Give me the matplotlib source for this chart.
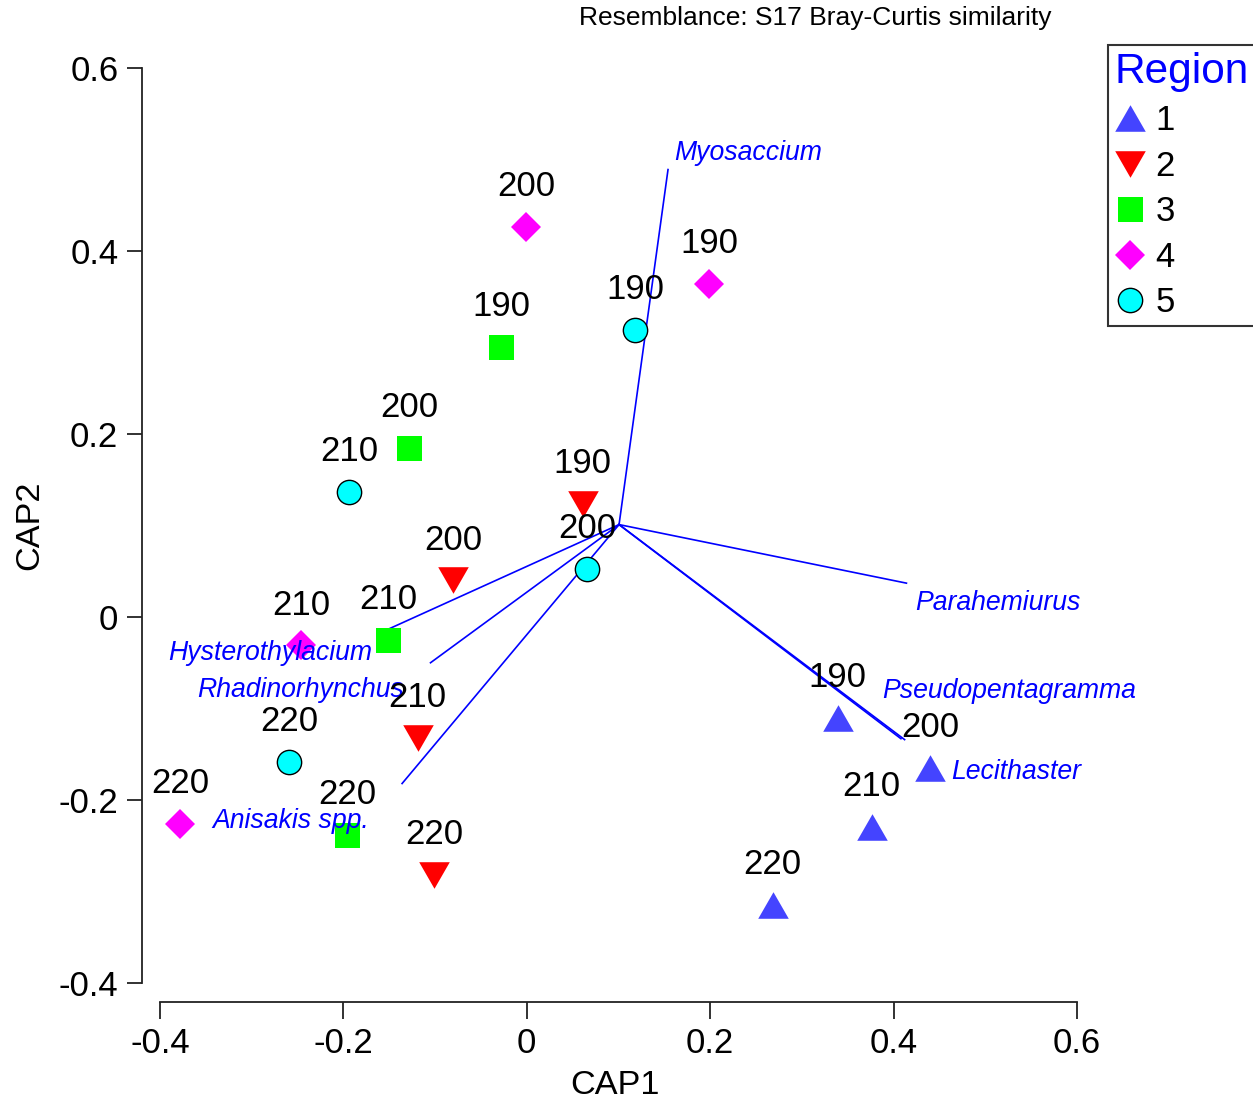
# CAP ordination plot (PRIMER style)
import numpy as np
import matplotlib
matplotlib.use('Agg')
import matplotlib.pyplot as plt
from matplotlib.lines import Line2D

plt.rcParams['font.family'] = ['Liberation Sans', 'DejaVu Sans']

# sample scores per region: CAP1, CAP2 and sample labels
regions = ['1', '2', '3', '4', '5']
samp_labels = ['190', '200', '210', '220']
cap1 = {
    '1': [0.339, 0.440, 0.376, 0.268],
    '2': [0.061, -0.080, -0.119, -0.101],
    '3': [-0.028, -0.128, -0.151, -0.196],
    '4': [0.199, -0.001, -0.246, -0.378],
    '5': [0.118, 0.066, -0.194, -0.259],
}
cap2 = {
    '1': [-0.110, -0.165, -0.229, -0.315],
    '2': [0.124, 0.040, -0.132, -0.282],
    '3': [0.295, 0.185, -0.025, -0.238],
    '4': [0.364, 0.426, -0.031, -0.226],
    '5': [0.314, 0.053, 0.137, -0.158],
}

# species vectors (origin + end points)
vec_origin = (0.1006, 0.101)
species = ['Myosaccium', 'Parahemiurus', 'Pseudopentagramma', 'Lecithaster',
           'Hysterothylacium', 'Rhadinorhynchus', 'Anisakis spp.']
vec_x = [0.154, 0.414, 0.412, 0.408, -0.157, -0.105, -0.136]
vec_y = [0.489, 0.037, -0.134, -0.133, -0.016, -0.050, -0.182]
# where each species name sits (x, y, alignment)
vec_lab = [(0.161, 0.507, 'left'), (0.423, 0.015, 'left'),
           (0.388, -0.081, 'left'), (0.463, -0.169, 'left'),
           (-0.169, -0.039, 'right'), (-0.134, -0.080, 'right'),
           (-0.343, -0.223, 'left')]

tri_up = [(-1.15, -1), (1.15, -1), (0, 1)]
tri_dn = [(-1.15, 1), (1.15, 1), (0, -1)]
styles = {
    '1': dict(marker=tri_up, color='#4444ff', ms=22, mec='none'),
    '2': dict(marker=tri_dn, color='#ff0000', ms=22, mec='none'),
    '3': dict(marker='s', color='#00ff00', ms=18, mec='none'),
    '4': dict(marker='D', color='#ff00ff', ms=15, mec='none'),
    '5': dict(marker='o', color='#00ffff', ms=17.5, mec='black', mew=1),
}

W, H = 1253, 1102
fig = plt.figure(figsize=(W/100, H/100), dpi=100)
ax = fig.add_axes([160/W, 1-983/H, 917/W, 915/H])
ax.set_xlim(-0.4, 0.6)
ax.set_ylim(-0.4, 0.6)

for sp, ex, ey, (lx, ly, ha) in zip(species, vec_x, vec_y, vec_lab):
    ax.plot([vec_origin[0], ex], [vec_origin[1], ey], color='#0000ff', lw=1.2, zorder=2)
    ax.text(lx, ly, sp, color='#0000ff', fontsize=19.2, style='italic',
            ha=ha, va='center', zorder=4)

for r in regions:
    st = styles[r]
    ax.plot(cap1[r], cap2[r], ls='none', marker=st['marker'], ms=st['ms'],
            mfc=st['color'], mec=st['mec'], mew=st.get('mew', 0), zorder=3)
    for x, y, lab in zip(cap1[r], cap2[r], samp_labels):
        ax.annotate(lab, (x, y), xytext=(0, 29), textcoords='offset points',
                    ha='center', va='center', fontsize=25, zorder=4)

for s in ['top', 'right']:
    ax.spines[s].set_visible(False)
ax.spines['left'].set_position(('outward', 13))
ax.spines['bottom'].set_position(('outward', 13.7))
for s in ['left', 'bottom']:
    ax.spines[s].set_linewidth(1.3)
    ax.spines[s].set_color('#222222')
ax.set_xticks([-0.4, -0.2, 0, 0.2, 0.4, 0.6])
ax.set_xticklabels(['-0.4', '-0.2', '0', '0.2', '0.4', '0.6'])
ax.set_yticks([-0.4, -0.2, 0, 0.2, 0.4, 0.6])
ax.set_yticklabels(['-0.4', '-0.2', '0', '0.2', '0.4', '0.6'])
ax.tick_params(axis='x', length=12.5, width=1.3, pad=5.5, labelsize=25, color='#222222')
ax.tick_params(axis='y', length=11, width=1.3, pad=6, labelsize=25, color='#222222')

fig.text(615/W, 1-1085/H, 'CAP1', ha='center', va='center', fontsize=24.7)
fig.text(30/W, 1-525/H, 'CAP2', ha='center', va='center', fontsize=24.7, rotation=90)
fig.text(815/W, 1-18/H, 'Resemblance: S17 Bray-Curtis similarity',
         ha='center', va='center', fontsize=19)

handles = []
for r in regions:
    st = styles[r]
    handles.append(Line2D([], [], ls='none', marker=st['marker'], ms=st['ms'],
                          mfc=st['color'], mec=st['mec'], mew=st.get('mew', 0)))
leg = fig.legend(handles, regions, loc='upper left', bbox_to_anchor=(1108/W, 1-45/H),
                 fontsize=25, title='Region', title_fontsize=30.5, frameon=True,
                 fancybox=False, edgecolor='black', borderpad=0.2, labelspacing=0.36,
                 handlelength=0.85, handletextpad=0.32, borderaxespad=0, alignment='left')
leg.get_title().set_color('#0000ff')
leg.get_frame().set_linewidth(1.5)

fig.savefig('out.png', dpi=100)
